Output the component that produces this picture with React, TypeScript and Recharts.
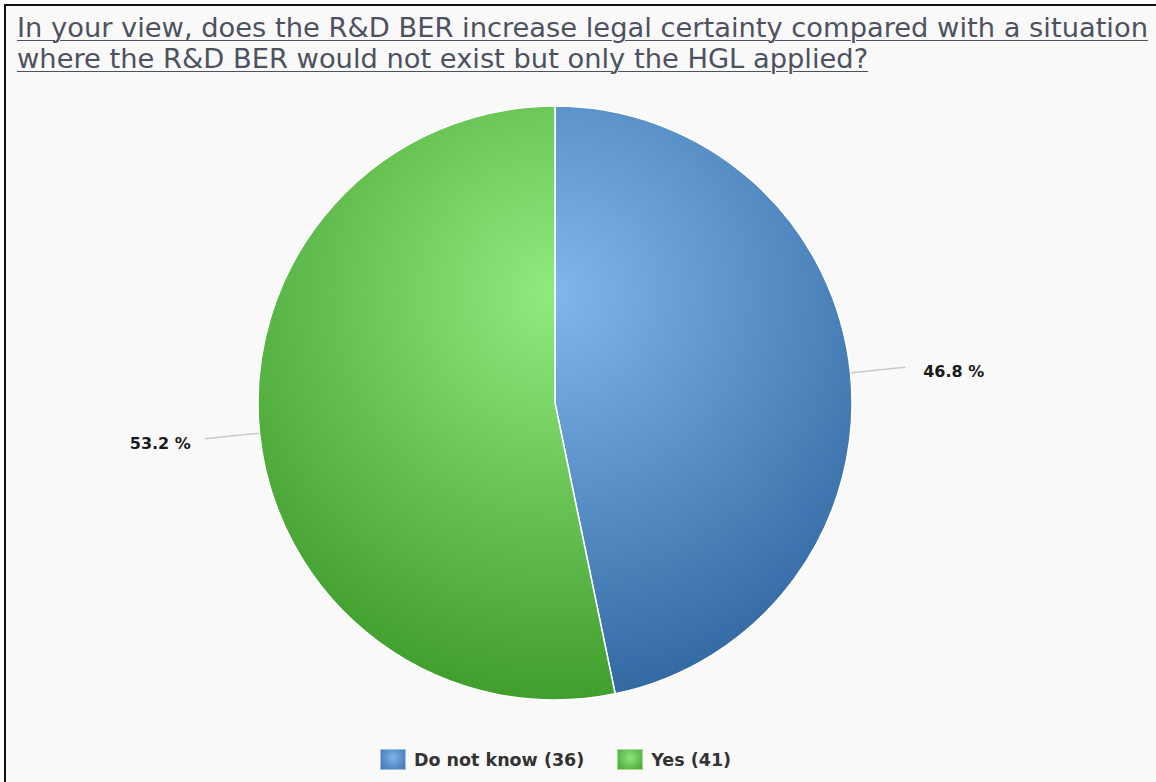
import React from 'react';
import { PieChart, Pie, Cell, Legend } from 'recharts';

const answers = ['Do not know', 'Yes'];
const counts = [36, 41];

const data = answers.map((name, i) => ({ name, value: counts[i] }));
const total = counts.reduce((a, b) => a + b, 0);

const CX = 555;
const CY = 403;
const R = 297;
const RAD = Math.PI / 180;

const renderLabel = (props: any) => {
  const { midAngle, value } = props;
  const cos = Math.cos(-midAngle * RAD);
  const sin = Math.sin(-midAngle * RAD);
  const x1 = CX + (R + 1) * cos;
  const y1 = CY + (R + 1) * sin;
  const x2 = CX + (R + 55) * cos;
  const y2 = CY + (R + 55) * sin;
  const right = cos >= 0;
  const pct = ((value / total) * 100).toFixed(1) + ' %';
  return (
    <g>
      <path d={`M${x1},${y1}L${x2},${y2}`} stroke="#c8c8c8" strokeWidth={1.5} fill="none" />
      <text
        x={right ? x2 + 18 : x2 - 14}
        y={y2 + 10}
        textAnchor={right ? 'start' : 'end'}
        fontFamily="DejaVu Sans"
        fontWeight="bold"
        fontSize={16}
        fill="#1a1a1a"
      >
        {pct}
      </text>
    </g>
  );
};

const renderLegend = () => (
  <div style={{ display: 'flex', justifyContent: 'center', gap: 33, fontFamily: 'DejaVu Sans', fontWeight: 'bold', fontSize: 17.5, color: '#333' }}>
    {data.map((d, i) => (
      <div key={d.name} style={{ display: 'flex', alignItems: 'center' }}>
        <span
          style={{
            display: 'inline-block',
            width: 24,
            height: 19,
            marginRight: 8,
            background: i === 0
              ? 'radial-gradient(circle at 50% 40%, #7fb3e8, #3a74b2)'
              : 'radial-gradient(circle at 50% 40%, #8fe57c, #45a530)',
            border: '1px solid ' + (i === 0 ? '#9fc0e2' : '#a5dc98'),
          }}
        />
        <span>{d.name} ({d.value})</span>
      </div>
    ))}
  </div>
);

export default function App() {
  return (
    <div style={{ position: 'absolute', left: 0, top: 0, width: 1156, height: 782, background: '#fff', overflow: 'hidden' }}>
      <div
        style={{
          position: 'absolute',
          left: 4,
          top: 4,
          width: 1160,
          height: 790,
          background: '#f9f9f9',
          borderLeft: '2px solid #111',
          borderTop: '2px solid #111',
        }}
      />
      <div
        style={{
          position: 'absolute',
          left: 17,
          top: 12,
          width: 1139,
          whiteSpace: 'nowrap',
          fontFamily: 'DejaVu Sans',
          fontSize: 27.3,
          lineHeight: '31px',
          color: '#4d5260',
          textDecoration: 'underline',
          textDecorationThickness: 1,
          textUnderlineOffset: 3,
        }}
      >
        In your view, does the R&amp;D BER increase legal certainty compared with a situation
        <br />
        where the R&amp;D BER would not exist but only the HGL applied?
      </div>
      <div style={{ position: 'absolute', left: 0, top: 0 }}>
        <PieChart width={1156} height={782} margin={{ top: 0, right: 0, bottom: 0, left: 0 }}>
          <defs>
            <radialGradient id="gBlue" gradientUnits="userSpaceOnUse" cx={CX} cy={CY - 110} r={440}>
              <stop offset="0%" stopColor="#80b6ec" />
              <stop offset="100%" stopColor="#2c639c" />
            </radialGradient>
            <radialGradient id="gGreen" gradientUnits="userSpaceOnUse" cx={CX} cy={CY - 110} r={440}>
              <stop offset="0%" stopColor="#92ea7e" />
              <stop offset="100%" stopColor="#3a9826" />
            </radialGradient>
          </defs>
          <Pie
            data={data}
            dataKey="value"
            nameKey="name"
            cx={CX}
            cy={CY}
            outerRadius={R}
            startAngle={90}
            endAngle={-270}
            stroke="#ffffff"
            strokeWidth={1.5}
            label={renderLabel}
            labelLine={false}
            isAnimationActive={false}
          >
            {data.map((d, i) => (
              <Cell key={d.name} fill={i === 0 ? 'url(#gBlue)' : 'url(#gGreen)'} />
            ))}
          </Pie>
          <Legend
            content={renderLegend}
            wrapperStyle={{ position: 'absolute', left: 0, top: 749, width: 1111 }}
          />
        </PieChart>
      </div>
    </div>
  );
}
